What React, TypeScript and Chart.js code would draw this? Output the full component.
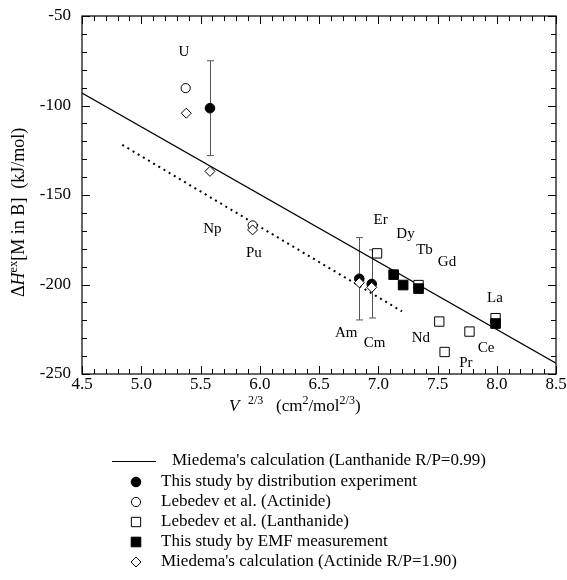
import React, { useEffect, useRef } from 'react';
import { Chart, registerables } from 'chart.js';

Chart.register(...registerables);

const SERIF = '"Liberation Serif", "Times New Roman", serif';

// Miedema's calculation (Lanthanide R/P=0.99) - solid line
const lanthLineX = [4.5, 8.5];
const lanthLineY = [-93, -244];
// Miedema actinide trend - dotted line
const actLineX = [4.84, 7.2];
const actLineY = [-122, -215];

// This study by distribution experiment (U, Am, Cm)
const distX = [5.58, 6.84, 6.945];
const distY = [-101.5, -196.8, -199.7];
const distErr = [26.5, 23, 19];

// Lebedev et al. (Actinide) (U, Pu)
const lebActX = [5.375, 5.94];
const lebActY = [-90.3, -167];

// Lebedev et al. (Lanthanide) (Er, Gd, Nd, Pr, Ce, La)
const lebLanX = [6.99, 7.34, 7.515, 7.56, 7.77, 7.99];
const lebLanY = [-182.6, -200.3, -220.7, -237.7, -226.3, -218.8];

// This study by EMF measurement
const emfX = [7.13, 7.21, 7.34, 7.99];
const emfY = [-194.5, -200.3, -202.3, -221.8];

// Miedema's calculation (Actinide R/P=1.90) (U, Np, Pu, Am, Cm)
const miedX = [5.38, 5.58, 5.94, 6.84, 6.945];
const miedY = [-104.3, -136.8, -169.5, -199, -201.6];

// Element labels
const elemLabels = ['U', 'Np', 'Pu', 'Am', 'Cm', 'Er', 'Dy', 'Tb', 'Gd', 'La', 'Nd', 'Ce', 'Pr'];
const elemLabelX = [5.36, 5.6, 5.95, 6.73, 6.97, 7.02, 7.23, 7.39, 7.58, 7.985, 7.36, 7.91, 7.74];
const elemLabelY = [-70, -169.3, -182.6, -227.4, -232.8, -163.9, -171.7, -181, -187.6, -207.6, -229.7, -235.6, -244];

// Axes
const xMin = 4.5, xMax = 8.5, xMajor = 0.5, xMinor = 0.1;
const yMin = -250, yMax = -50, yMajor = 50, yMinor = 10;

const legendLabels = [
  "Miedema's calculation (Lanthanide R/P=0.99)",
  'This study by distribution experiment',
  'Lebedev et al. (Actinide)',
  'Lebedev et al. (Lanthanide)',
  'This study by EMF measurement',
  "Miedema's calculation (Actinide R/P=1.90)",
];

const pts = (xs: number[], ys: number[]) => xs.map((x, i) => ({ x, y: ys[i] }));

export default function App() {
  const ref = useRef<HTMLCanvasElement | null>(null);

  useEffect(() => {
    if (!ref.current) return;

    const decor = {
      id: 'decor',
      beforeDatasetsDraw(chart: any) {
        const ctx = chart.ctx;
        const xs = chart.scales.x, ys = chart.scales.y;
        ctx.save();
        ctx.strokeStyle = '#555';
        ctx.lineWidth = 1;
        distX.forEach((x, i) => {
          const px = Math.round(xs.getPixelForValue(x)) + 0.5;
          const t = ys.getPixelForValue(distY[i] + distErr[i]);
          const b = ys.getPixelForValue(distY[i] - distErr[i]);
          ctx.beginPath();
          ctx.moveTo(px, t); ctx.lineTo(px, b);
          ctx.moveTo(px - 3.5, t); ctx.lineTo(px + 3.5, t);
          ctx.moveTo(px - 3.5, b); ctx.lineTo(px + 3.5, b);
          ctx.stroke();
        });
        ctx.restore();
      },
      afterDraw(chart: any) {
        const ctx = chart.ctx;
        const xs = chart.scales.x, ys = chart.scales.y;
        const a = chart.chartArea;
        ctx.save();
        // frame
        ctx.strokeStyle = '#000';
        ctx.lineWidth = 1.2;
        ctx.strokeRect(a.left, a.top, a.right - a.left, a.bottom - a.top);
        // ticks
        ctx.lineWidth = 1;
        ctx.beginPath();
        const nx = Math.round((xMax - xMin) / xMinor);
        for (let i = 0; i <= nx; i++) {
          const v = xMin + i * xMinor;
          const major = i % Math.round(xMajor / xMinor) === 0;
          const len = major ? 8 : 5;
          const px = Math.round(xs.getPixelForValue(v)) + 0.5;
          ctx.moveTo(px, a.bottom); ctx.lineTo(px, a.bottom - len);
          ctx.moveTo(px, a.top); ctx.lineTo(px, a.top + len);
        }
        const ny = Math.round((yMax - yMin) / yMinor);
        for (let i = 0; i <= ny; i++) {
          const v = yMin + i * yMinor;
          const major = i % Math.round(yMajor / yMinor) === 0;
          const len = major ? 8 : 5;
          const py = Math.round(ys.getPixelForValue(v)) + 0.5;
          ctx.moveTo(a.left, py); ctx.lineTo(a.left + len, py);
          ctx.moveTo(a.right, py); ctx.lineTo(a.right - len, py);
        }
        ctx.stroke();

        // element labels
        ctx.fillStyle = '#000';
        ctx.font = `15px ${SERIF}`;
        ctx.textAlign = 'center';
        ctx.textBaseline = 'middle';
        elemLabels.forEach((t, i) => {
          ctx.fillText(t, xs.getPixelForValue(elemLabelX[i]), ys.getPixelForValue(elemLabelY[i]));
        });

        const drawRich = (segs: [string, string, number][], x: number, y: number) => {
          ctx.textAlign = 'left';
          ctx.textBaseline = 'alphabetic';
          let cx = x;
          segs.forEach(([txt, f, dy]) => {
            ctx.font = f;
            ctx.fillText(txt, cx, y + dy);
            cx += ctx.measureText(txt).width;
          });
        };

        // x title
        const big = `17px ${SERIF}`;
        const bigI = `italic 17px ${SERIF}`;
        const sm = `12px ${SERIF}`;
        drawRich([
          ['V', bigI, 0],
          ['  ', big, 0],
          ['2/3', sm, -7],
          ['   (cm', big, 0],
          ['2', sm, -7],
          ['/mol', big, 0],
          ['2/3', sm, -7],
          [')', big, 0],
        ], 229, 411);

        // y title
        const bigY = `18px ${SERIF}`;
        const bigYI = `italic 18px ${SERIF}`;
        const smY = `12.5px ${SERIF}`;
        ctx.save();
        ctx.translate(24, 297);
        ctx.rotate(-Math.PI / 2);
        drawRich([
          ['\u0394', bigY, 0],
          ['H', bigYI, 0],
          ['ex', smY, -7.5],
          ['[M in B]  (kJ/mol)', bigY, 0],
        ], 0, 0);
        ctx.restore();

        // legend
        ctx.textAlign = 'left';
        ctx.textBaseline = 'middle';
        ctx.font = `17px ${SERIF}`;
        ctx.fillStyle = '#000';
        const mx = 136;
        const rows = [461, 482, 502, 522, 542, 562];
        ctx.strokeStyle = '#000';
        ctx.lineWidth = 1.2;
        ctx.beginPath();
        ctx.moveTo(112, rows[0] + 0.5); ctx.lineTo(156, rows[0] + 0.5);
        ctx.stroke();
        ctx.fillText(legendLabels[0], 172, rows[0]);
        const dsIdx = [2, 3, 4, 5, 6];
        dsIdx.forEach((di, k) => {
          const ds = chart.data.datasets[di];
          const y = rows[k + 1];
          ctx.lineWidth = 1;
          ctx.strokeStyle = '#000';
          ctx.fillStyle = ds.backgroundColor;
          ctx.beginPath();
          const st = ds.pointStyle, r = ds.pointRadius;
          if (st === 'circle') {
            ctx.arc(mx, y, r, 0, Math.PI * 2);
          } else if (st === 'rect') {
            const h = r * Math.SQRT1_2;
            ctx.rect(mx - h, y - h, 2 * h, 2 * h);
          } else {
            ctx.moveTo(mx, y - r); ctx.lineTo(mx + r, y); ctx.lineTo(mx, y + r); ctx.lineTo(mx - r, y); ctx.closePath();
          }
          ctx.fill();
          ctx.stroke();
          ctx.fillStyle = '#000';
          ctx.fillText(legendLabels[k + 1], 161, y);
        });
        ctx.restore();
      },
    };

    const chart = new Chart(ref.current, {
      type: 'scatter',
      data: {
        datasets: [
          {
            label: legendLabels[0],
            data: pts(lanthLineX, lanthLineY),
            showLine: true,
            borderColor: '#000',
            borderWidth: 1.3,
            pointRadius: 0,
            order: 10,
          },
          {
            label: 'actinide trend',
            data: pts(actLineX, actLineY),
            showLine: true,
            borderColor: '#000',
            borderWidth: 2,
            borderDash: [2, 4],
            pointRadius: 0,
            order: 9,
          },
          {
            label: legendLabels[1],
            data: pts(distX, distY),
            pointStyle: 'circle',
            pointRadius: 4.8,
            backgroundColor: '#000',
            borderColor: '#000',
            borderWidth: 1,
            order: 3,
          },
          {
            label: legendLabels[2],
            data: pts(lebActX, lebActY),
            pointStyle: 'circle',
            pointRadius: 4.6,
            backgroundColor: '#fff',
            borderColor: '#000',
            borderWidth: 1,
            order: 4,
          },
          {
            label: legendLabels[3],
            data: pts(lebLanX, lebLanY),
            pointStyle: 'rect',
            pointRadius: 6.6,
            backgroundColor: '#fff',
            borderColor: '#000',
            borderWidth: 1,
            order: 5,
          },
          {
            label: legendLabels[4],
            data: pts(emfX, emfY),
            pointStyle: 'rect',
            pointRadius: 6.8,
            backgroundColor: '#000',
            borderColor: '#000',
            borderWidth: 1,
            order: 2,
          },
          {
            label: legendLabels[5],
            data: pts(miedX, miedY),
            pointStyle: 'rectRot',
            pointRadius: 5,
            backgroundColor: '#fff',
            borderColor: '#000',
            borderWidth: 1,
            order: 1,
          },
        ],
      },
      options: {
        responsive: false,
        animation: false,
        devicePixelRatio: 1,
        layout: { padding: { top: 16, right: 11, bottom: 176, left: 0 } },
        plugins: {
          legend: { display: false },
          tooltip: { enabled: false },
        },
        scales: {
          x: {
            type: 'linear',
            min: xMin,
            max: xMax,
            grid: { display: false, drawTicks: false },
            border: { display: false },
            ticks: {
              stepSize: xMajor,
              padding: 0,
              color: '#000',
              font: { family: SERIF, size: 17 },
              maxRotation: 0,
              callback: (v: any) => Number(v).toFixed(1),
            },
            afterFit: (s: any) => {
              s.height = 30;
              s.paddingLeft = 0;
              s.paddingRight = 0;
            },
          },
          y: {
            type: 'linear',
            min: yMin,
            max: yMax,
            grid: { display: false, drawTicks: false },
            border: { display: false },
            ticks: {
              stepSize: yMajor,
              padding: 11,
              color: '#000',
              font: { family: SERIF, size: 17 },
              callback: (v: any) => String(v),
            },
            afterFit: (s: any) => {
              s.width = 82;
              s.paddingTop = 0;
              s.paddingBottom = 0;
            },
          },
        },
      },
      plugins: [decor],
    });

    return () => chart.destroy();
  }, []);

  return (
    <div style={{ position: 'absolute', left: 0, top: 0, width: 567, height: 580, background: '#fff' }}>
      <canvas ref={ref} width={567} height={580} style={{ width: 567, height: 580 }} />
    </div>
  );
}
